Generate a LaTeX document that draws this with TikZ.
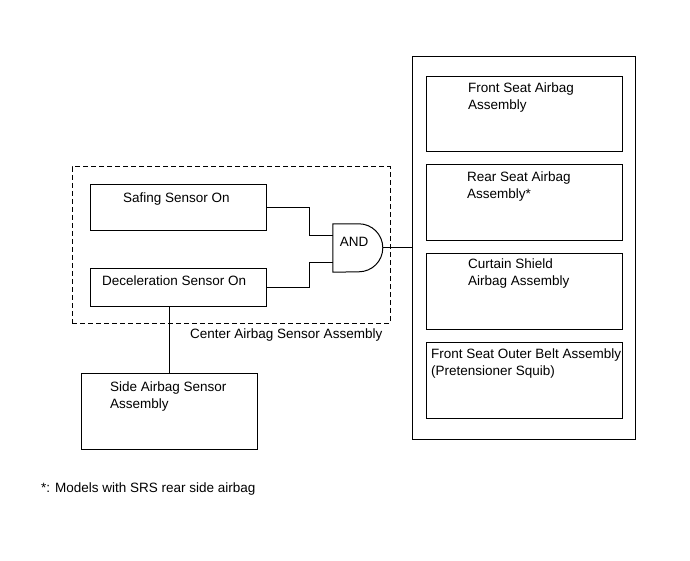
\documentclass[tikz,border=0pt]{standalone}
\usepackage{fontspec}
\setmainfont{Liberation Sans}
\begin{document}
\begin{tikzpicture}[x=1pt,y=-1pt,
  box/.style={draw,line width=1pt,rectangle,inner sep=0pt},
  lbl/.style={anchor=north west,inner sep=0pt,align=left,font=\fontsize{13.5}{17}\selectfont},
  wire/.style={line width=1pt}]
\useasboundingbox (0,0) rectangle (690,561);
% dashed assembly
\node[box,dash pattern=on 5pt off 3pt,minimum width=318pt,minimum height=156pt] (center) at (231,245) {};
\node[box,minimum width=176pt,minimum height=46pt] (safing) at (178,208) {};
\node[box,minimum width=176pt,minimum height=38pt] (decel) at (178,287) {};
\node[lbl] (tsafing) at (123,193) {Safing Sensor On};
\node[lbl] (tdecel) at (102,276) {Deceleration Sensor On};
\node[lbl] (tcenter) at (190,329) {Center Airbag Sensor Assembly};
% AND gate
\node[inner sep=0pt,minimum width=50pt,minimum height=48pt] (gate) at (358,248) {};
\draw[wire] (gate.north west) -- ++(26,0) arc[start angle=90,end angle=-90,radius=24pt] -- (gate.south west) -- cycle;
\node[lbl,anchor=center] (tand) at (354,242) {AND};
\coordinate (in1) at (333,236);
\coordinate (in2) at (333,262);
\draw[wire] (safing.east) -- (309,208) |- (in1);
\draw[wire] (decel.east) -- (309,287) |- (in2);
% output box
\node[box,minimum width=223pt,minimum height=382pt] (out) at (523.5,248) {};
\draw[wire] (gate.east) -- (out.west);
\node[box,minimum width=196pt,minimum height=75pt] (b1) at (524,114.5) {};
\node[box,minimum width=196pt,minimum height=76pt] (b2) at (524,203) {};
\node[box,minimum width=196pt,minimum height=76pt] (b3) at (524,291) {};
\node[box,minimum width=196pt,minimum height=76pt] (b4) at (524,380) {};
\node[lbl] (t1) at (468,83) {Front Seat Airbag\\Assembly};
\node[lbl] (t2) at (467,172) {Rear Seat Airbag\\Assembly*};
\node[lbl] (t3) at (468,259) {Curtain Shield\\Airbag Assembly};
\node[lbl] (t4) at (431,349) {Front Seat Outer Belt Assembly\\(Pretensioner Squib)};
% side sensor
\node[box,minimum width=176pt,minimum height=76pt] (side) at (169,411) {};
\node[lbl] (tside) at (110,382) {Side Airbag Sensor\\Assembly};
\draw[wire] (side.north) -- (side.north |- decel.south);
\node[lbl] (foot) at (41,483) {*: Models with SRS rear side airbag};
\end{tikzpicture}
\end{document}
